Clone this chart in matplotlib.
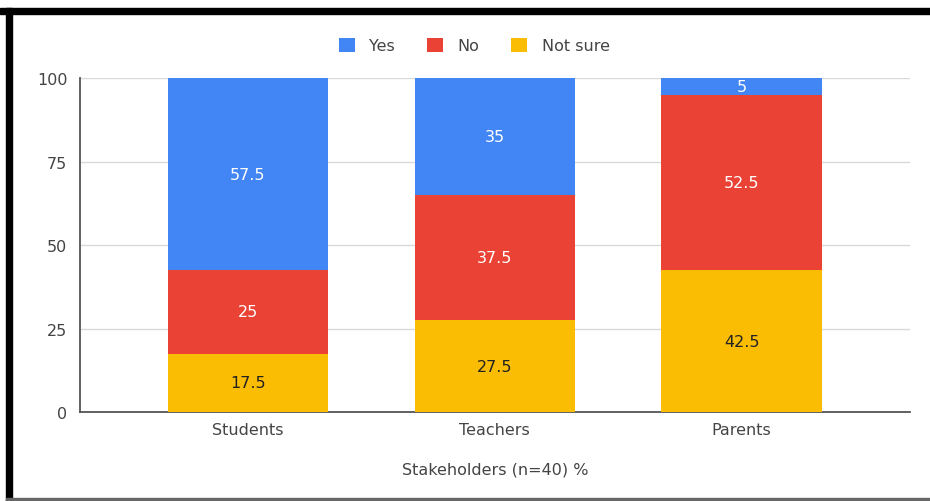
import matplotlib.pyplot as plt
from matplotlib.patches import Rectangle

plt.rcParams["font.family"] = ["DejaVu Sans"]

groups = ["Students", "Teachers", "Parents"]
not_sure = [17.5, 27.5, 42.5]
no = [25, 37.5, 52.5]
yes = [57.5, 35, 5]

COLORS = {"Yes": "#4285F4", "No": "#EA4335", "Not sure": "#FBBC04"}
TEXT = "#444444"

fig = plt.figure(figsize=(9.3, 5.02), dpi=100)
ax = fig.add_axes([0.086, 0.177, 0.892, 0.665])

x = range(len(groups))
width = 0.65

# stack from the bottom: Not sure, No, Yes
series = [("Not sure", not_sure), ("No", no), ("Yes", yes)]
bottom = [0.0] * len(groups)
for name, vals in series:
    bars = ax.bar(x, vals, width, bottom=bottom, color=COLORS[name],
                  label=name, zorder=3)
    label_color = "#222222" if name == "Not sure" else "white"
    ax.bar_label(bars, labels=[f"{v:g}" for v in vals], label_type="center",
                 color=label_color, fontsize=11.5, zorder=4)
    bottom = [b + v for b, v in zip(bottom, vals)]

ax.set_xlim(-0.68, 2.68)
ax.set_ylim(0, 100)
ax.set_yticks([0, 25, 50, 75, 100])
ax.set_xticks(list(x))
ax.set_xticklabels(groups)
ax.tick_params(axis="both", length=0, labelsize=11.5, labelcolor=TEXT)
ax.tick_params(axis="y", pad=9)
ax.tick_params(axis="x", pad=7)
ax.grid(axis="y", color="#d9d9d9", linewidth=1, zorder=0)

for side in ["top", "right"]:
    ax.spines[side].set_visible(False)
for side in ["left", "bottom"]:
    ax.spines[side].set_color("#555555")
    ax.spines[side].set_linewidth(1.3)

ax.set_xlabel("Stakeholders (n=40) %", fontsize=11.5, color=TEXT, labelpad=18)

# legend order: Yes, No, Not sure
handles, labels = ax.get_legend_handles_labels()
order = [2, 1, 0]
fig.legend([handles[i] for i in order], [labels[i] for i in order],
           loc="center", bbox_to_anchor=(0.51, 0.907), ncol=3, frameon=False,
           fontsize=11.5, labelcolor=TEXT, handlelength=1.0, handleheight=1.0,
           columnspacing=2.0, handletextpad=0.9)

# black frame round the chart
fig.patches.append(Rectangle((0, 0.970), 1.0, 0.013, transform=fig.transFigure,
                             color="black", zorder=10))
fig.patches.append(Rectangle((0.006, 0.0), 0.007, 0.983, transform=fig.transFigure,
                             color="black", zorder=10))
fig.patches.append(Rectangle((0.006, 0.0), 0.994, 0.005, transform=fig.transFigure,
                             color="#666666", zorder=10))

fig.savefig("out.png", dpi=100)
